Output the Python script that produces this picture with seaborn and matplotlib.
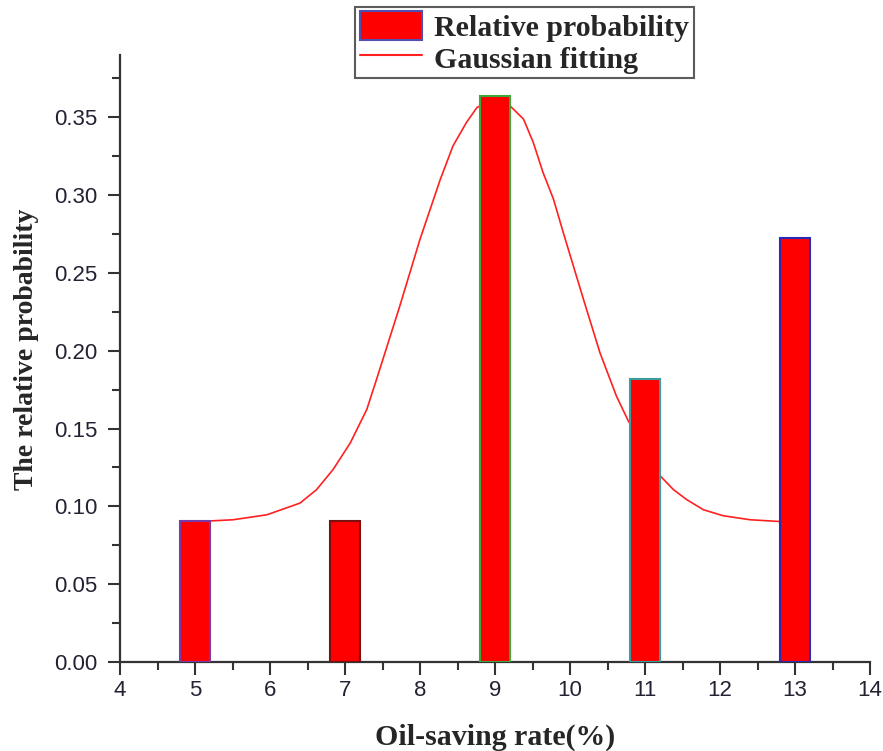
import numpy as np
import pandas as pd
import matplotlib
matplotlib.use('Agg')
import matplotlib.pyplot as plt
import seaborn as sns
from matplotlib.patches import Patch
from matplotlib.lines import Line2D
from matplotlib.ticker import MultipleLocator

# 柱状图数据
rate = [5, 7, 9, 11, 13]
prob = [0.0909, 0.0909, 0.3636, 0.1818, 0.2727]
edge_colors = ['#7a3aa8', '#7a1010', '#3aa83a', '#3a9c9c', '#2a2ab8']

# 高斯拟合曲线（从图上读取的点）
fit_x = [5.0, 5.19, 5.51, 5.96, 6.40, 6.62, 6.84, 7.07, 7.29, 7.42, 7.73, 8.0, 8.27,
         8.44, 8.62, 8.76, 9.0, 9.2, 9.38, 9.51, 9.64, 9.78, 9.91, 10.18, 10.4,
         10.62, 10.78, 11.0, 11.2, 11.38, 11.56, 11.78, 12.04, 12.4, 12.78, 13.0]
fit_y = [0.0905, 0.0906, 0.0914, 0.0946, 0.1021, 0.1107, 0.1236, 0.1407, 0.1622,
         0.1815, 0.2286, 0.2716, 0.3100, 0.3316, 0.3467, 0.3563, 0.3620, 0.3573,
         0.3488, 0.3338, 0.3145, 0.2973, 0.2759, 0.2329, 0.1986, 0.1707, 0.1546,
         0.1400, 0.1197, 0.1107, 0.1042, 0.0978, 0.0940, 0.0914, 0.0903, 0.0903]

df_bar = pd.DataFrame({'rate': rate, 'prob': prob})
df_fit = pd.DataFrame({'x': fit_x, 'y': fit_y})

sns.set_style('ticks')
fig = plt.figure(figsize=(8.83, 7.51), dpi=100)
ax = fig.add_axes([0.1359, 0.1185, 0.8494, 0.8083])

# 拟合曲线在柱子下面
sns.lineplot(data=df_fit, x='x', y='y', color='#ff2020', linewidth=1.2, ax=ax, zorder=2)
sns.barplot(data=df_bar, x='rate', y='prob', native_scale=True, width=0.2,
            color='red', saturation=1, ax=ax, zorder=3)
for p, ec in zip(ax.patches, edge_colors):
    p.set_facecolor('red')
    p.set_edgecolor(ec)
    p.set_linewidth(1.5)

ax.set_xlim(4, 14)
ax.set_ylim(0, 0.39)
ax.xaxis.set_major_locator(MultipleLocator(1))
ax.xaxis.set_minor_locator(MultipleLocator(0.5))
ax.yaxis.set_minor_locator(MultipleLocator(0.025))
ax.set_yticks(np.arange(0, 0.36, 0.05))
ax.set_yticklabels([f'{v:.2f}' for v in np.arange(0, 0.36, 0.05)])

sns.despine(ax=ax)
for s in ['left', 'bottom']:
    ax.spines[s].set_linewidth(1.6)
    ax.spines[s].set_color('#333333')
ax.tick_params(which='major', direction='out', length=9, width=1.5, color='#333333',
               labelsize=16, labelcolor='#222233')
ax.tick_params(axis='y', pad=7)
ax.tick_params(axis='x', pad=4)
ax.tick_params(which='minor', direction='out', length=5.5, width=1.5, color='#333333')
for lbl in ax.get_xticklabels() + ax.get_yticklabels():
    lbl.set_family('Liberation Sans')

ax.set_xlabel('Oil-saving rate(%)', fontsize=21.5, fontweight='bold',
              family='Liberation Serif', labelpad=16)
ax.set_ylabel('The relative probability', fontsize=20, fontweight='bold',
              family='Liberation Serif', labelpad=8)
ax.yaxis.set_label_coords(-0.108, 0.515)

handles = [Patch(facecolor='red', edgecolor='#5050b0', linewidth=1.5),
           Line2D([0], [0], color='#ff2020', linewidth=1.5)]
leg = fig.legend(handles, ['Relative probability', 'Gaussian fitting'],
                 loc='upper center', bbox_to_anchor=(0.594, 0.991),
                 prop={'family': 'Liberation Serif', 'weight': 'bold', 'size': 21.5},
                 frameon=True, fancybox=False, edgecolor='#333333',
                 handlelength=2.1, handleheight=1.1, handletextpad=0.4,
                 labelspacing=0.05, borderpad=0.15, borderaxespad=0)
leg.get_frame().set_linewidth(1.5)

fig.savefig('out.png', dpi=100)
